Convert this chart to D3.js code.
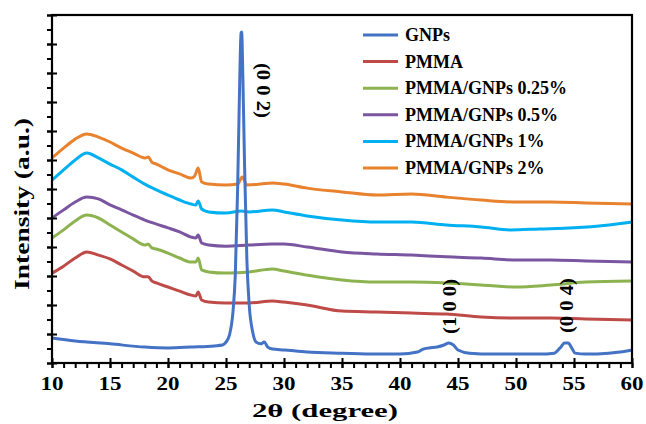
<!DOCTYPE html>
<html><head><meta charset="utf-8">
<script src="https://cdn.jsdelivr.net/npm/d3@7"></script>
<style>body{margin:0;background:#fff}svg{display:block}text{font-family:"Liberation Serif",serif;font-weight:bold;fill:#000}</style>
</head><body><svg id="c" width="646" height="424"></svg>
<script>
// 2θ (degree) vs intensity (a.u.)
const seriesNames = ["GNPs","PMMA","PMMA/GNPs 0.25%","PMMA/GNPs 0.5%","PMMA/GNPs 1%","PMMA/GNPs 2%"];
const seriesColors = ["#4472C4","#BE4B48","#8DB350","#7A55A0","#00B0F0","#E8822F"];
const xTicks = [10,15,20,25,30,35,40,45,50,55,60];

const gnps = [[10,0.86],[12,0.76],[15,0.66],[18,0.55],[20,0.52],[22,0.55],[24,0.59],[24.7,0.62],[25.0,0.72],[25.3,0.97],[25.6,1.76],[25.8,3.03],[26.0,5.97],[26.15,9.07],[26.3,11.38],[26.35,11.41],[26.45,9.93],[26.6,6.83],[26.8,3.55],[27.0,2.0],[27.3,1.07],[27.6,0.72],[28.0,0.66],[28.3,0.72],[28.6,0.55],[29,0.48],[30,0.45],[32,0.38],[35,0.34],[38,0.31],[40,0.31],[41.5,0.38],[42.0,0.48],[42.5,0.52],[43.2,0.55],[43.8,0.62],[44.2,0.69],[44.6,0.62],[45.0,0.45],[46,0.34],[48,0.31],[50,0.31],[52,0.31],[53.3,0.34],[53.8,0.52],[54.2,0.69],[54.5,0.69],[54.8,0.52],[55.1,0.34],[56,0.31],[58,0.34],[59,0.38],[60,0.45]];
const pmma = [[10,3.10],[11,3.34],[12,3.62],[13,3.83],[14,3.72],[15,3.59],[16,3.38],[17,3.17],[18,2.97],[18.3,2.97],[18.6,2.83],[19,2.76],[20,2.62],[21,2.48],[22,2.34],[22.4,2.31],[22.6,2.45],[22.9,2.17],[23.5,2.10],[25,2.07],[27,2.07],[29,2.14],[30,2.10],[32,2.00],[35,1.79],[38,1.76],[41,1.72],[44,1.69],[47,1.59],[50,1.55],[53,1.55],[56,1.52],[60,1.48]];
const pg025 = [[10,4.31],[11,4.59],[12,4.90],[13,5.10],[14,5.00],[15,4.76],[16,4.52],[17,4.28],[18,4.07],[18.3,4.10],[18.6,3.97],[19,3.93],[20,3.79],[21,3.62],[22,3.48],[22.4,3.48],[22.6,3.62],[22.9,3.21],[23.5,3.14],[25,3.10],[27,3.14],[29,3.24],[30,3.17],[32,3.03],[35,2.86],[38,2.79],[41,2.79],[44,2.76],[47,2.69],[50,2.62],[53,2.69],[56,2.79],[60,2.83]];
const pg05 = [[10,5.00],[11,5.28],[12,5.55],[13,5.72],[14,5.66],[15,5.45],[16,5.28],[17,5.10],[18,4.93],[19,4.79],[20,4.66],[21,4.52],[22,4.34],[22.4,4.31],[22.6,4.41],[22.9,4.14],[23.5,4.07],[25,4.03],[27,4.07],[29,4.10],[30,4.10],[32,4.00],[35,3.83],[38,3.76],[41,3.72],[44,3.66],[47,3.62],[50,3.55],[53,3.55],[56,3.52],[60,3.48]];
const pg1 = [[10,6.31],[11,6.66],[12,7.00],[13,7.24],[14,7.07],[15,6.86],[16,6.66],[17,6.41],[18,6.17],[19,5.97],[20,5.79],[21,5.62],[22,5.48],[22.4,5.45],[22.6,5.59],[22.9,5.31],[23.5,5.21],[25,5.17],[26.3,5.24],[27,5.21],[29,5.28],[30,5.21],[32,5.07],[35,4.93],[38,4.86],[41,4.86],[44,4.76],[47,4.69],[49.5,4.59],[52,4.62],[55,4.66],[58,4.76],[60,4.86]];
const pg2 = [[10,7.07],[11,7.41],[12,7.72],[13,7.90],[14,7.79],[15,7.62],[16,7.41],[17,7.24],[18,7.07],[18.3,7.10],[18.6,6.93],[19,6.86],[20,6.66],[21,6.52],[22,6.38],[22.3,6.45],[22.6,6.72],[22.9,6.24],[23.5,6.17],[25,6.14],[26.0,6.17],[26.4,6.41],[26.8,6.14],[28,6.17],[29,6.21],[30,6.17],[32,6.03],[35,5.90],[38,5.79],[41,5.83],[44,5.72],[47,5.62],[50,5.55],[53,5.55],[56,5.52],[60,5.48]];
const seriesData = [gnps,pmma,pg025,pg05,pg1,pg2];
const peakLabels = [{t:"(0 0 2)",x:26.3,y:9.4},{t:"(1 0 0)",x:44.3,y:1.95},{t:"(0 0 4)",x:54.4,y:1.98}];

const svg = d3.select("#c");
const L=52,R=632,T=15,B=363;
const x = d3.scaleLinear().domain([10,60]).range([L,R]);
const y = d3.scaleLinear().domain([0,12]).range([B,T]);

const line = d3.line().x(d=>x(d[0])).y(d=>y(d[1])).curve(d3.curveMonotoneX);
const order=[1,2,3,4,5,0];
order.forEach(i=>{
  svg.append("path").datum(seriesData[i]).attr("d",line).attr("fill","none")
    .attr("stroke",seriesColors[i]).attr("stroke-width",3).attr("stroke-linejoin","round");
});

// axes
svg.append("g").attr("transform",`translate(0,${B})`)
  .call(d3.axisBottom(x).tickValues(d3.range(10,61,1)).tickSize(5).tickFormat(""))
  .call(g=>{g.select(".domain").remove();g.selectAll("line").attr("stroke","#000").attr("stroke-width",2);});
svg.append("g").attr("transform",`translate(0,${B})`)
  .call(d3.axisBottom(x).tickValues(xTicks).tickSize(-5).tickFormat(""))
  .call(g=>{g.select(".domain").remove();g.selectAll("line").attr("stroke","#000").attr("stroke-width",2).attr("y2",-5).attr("y1",5);});
svg.append("g").attr("transform",`translate(${L},0)`)
  .call(d3.axisLeft(y).tickValues(d3.range(0,12.01,0.5)).tickSize(5).tickFormat(""))
  .call(g=>{g.select(".domain").remove();g.selectAll("line").attr("stroke","#000").attr("stroke-width",2);});
svg.append("g").attr("transform",`translate(${L},0)`)
  .call(d3.axisLeft(y).tickValues(d3.range(0,12.01,1)).tickSize(5).tickFormat(""))
  .call(g=>{g.select(".domain").remove();g.selectAll("line").attr("stroke","#000").attr("stroke-width",2).attr("x1",5);});
svg.append("rect").attr("x",L).attr("y",T).attr("width",R-L).attr("height",B-T)
  .attr("fill","none").attr("stroke","#000").attr("stroke-width",2.2);

// tick labels
xTicks.forEach(v=>{
  svg.append("text").attr("x",x(v)).attr("y",390).attr("text-anchor","middle")
    .attr("font-size",19).attr("textLength",23).attr("lengthAdjust","spacingAndGlyphs").text(v);
});
svg.append("text").attr("x",325).attr("y",417).attr("text-anchor","middle").attr("font-size",19)
  .attr("textLength",146).attr("lengthAdjust","spacingAndGlyphs").text("2θ (degree)");
svg.append("text").attr("transform","translate(29,204) rotate(-90)").attr("text-anchor","middle")
  .attr("font-size",22).attr("textLength",172).attr("lengthAdjust","spacingAndGlyphs").text("Intensity (a.u.)");

// legend
seriesNames.forEach((n,i)=>{
  const yy=35+i*26.6;
  svg.append("line").attr("x1",363).attr("x2",398).attr("y1",yy).attr("y2",yy)
    .attr("stroke",seriesColors[i]).attr("stroke-width",3);
  svg.append("text").attr("x",405).attr("y",yy+6).attr("font-size",18).text(n);
});

// peak labels
peakLabels.forEach((p,i)=>{
  const rot = i===0?90:-90;
  svg.append("text").attr("transform",`translate(${x(p.x)+ (i===0?22:0)},${y(p.y)}) rotate(${rot})`)
    .attr("text-anchor","middle").attr("dy","0.35em").attr("font-size",18)
    .attr("textLength",55).attr("lengthAdjust","spacingAndGlyphs").text(p.t);
});
</script></body></html>
